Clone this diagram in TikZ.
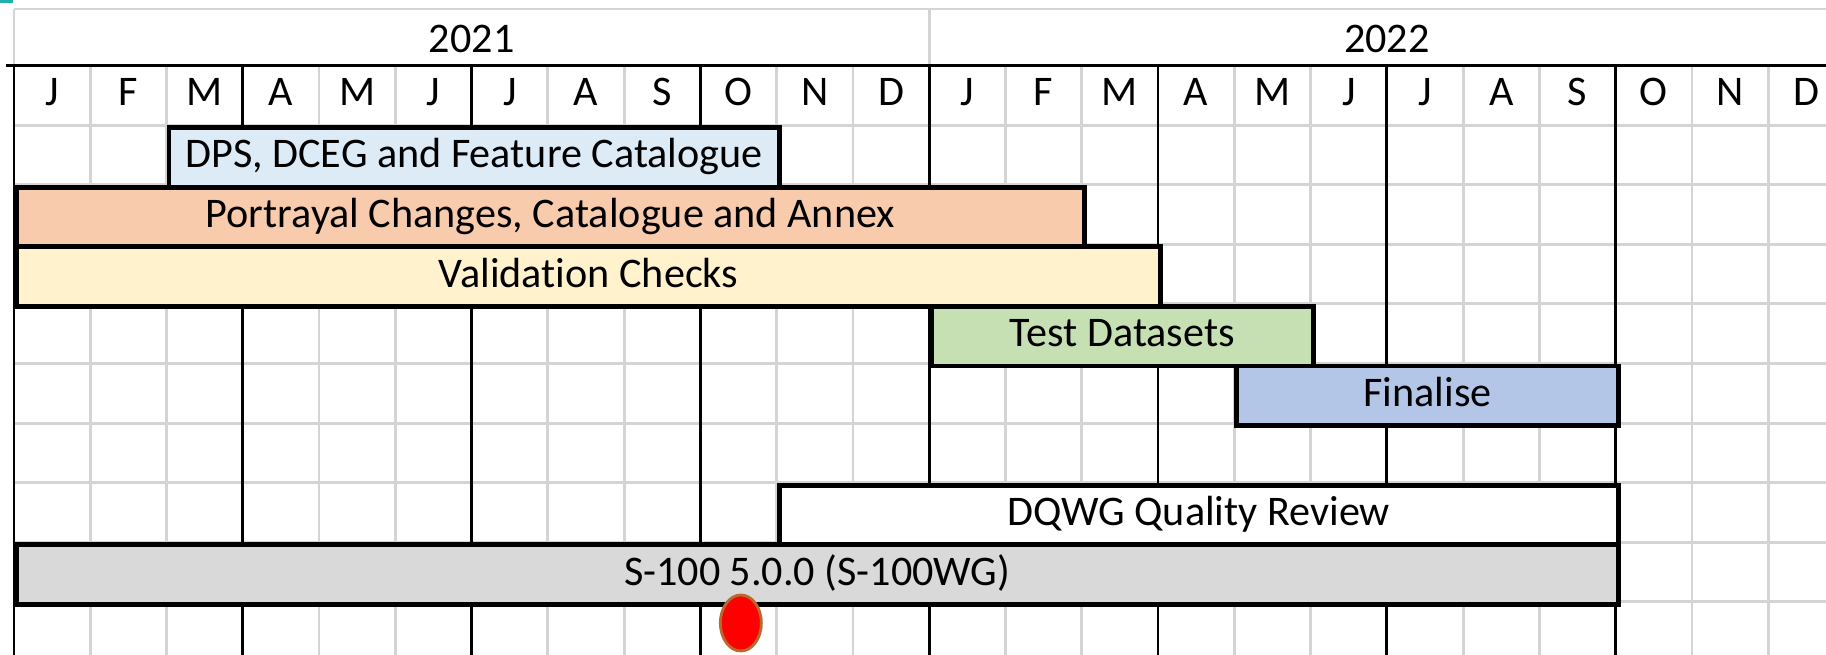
\documentclass[tikz,border=0pt]{standalone}
\usepackage{fontspec}
\setmainfont{Carlito}[Ligatures=NoCommon]
\usetikzlibrary{shapes.geometric}

\definecolor{gridgray}{HTML}{D4D4D4}
\definecolor{dpsblue}{HTML}{DDEBF7}
\definecolor{portorange}{HTML}{F8CBAD}
\definecolor{valyellow}{HTML}{FFF2CC}
\definecolor{testgreen}{HTML}{C6E0B4}
\definecolor{finblue}{HTML}{B4C6E7}
\definecolor{specgray}{HTML}{D9D9D9}
\definecolor{milebrown}{HTML}{B8692E}
\definecolor{selteal}{HTML}{20B2AA}

\def\colw{0.7627cm}

\begin{document}
\begin{tikzpicture}[x=0.7627cm, y=0.596cm]
    \path[use as bounding box] (-0.1836, -9.891) rectangle (23.758, 1.099);
    \clip (-0.1836, -9.891) rectangle (23.758, 1.099);
    \fill[selteal] (-0.1836, 1.049) rectangle (-0.013, 1.099);
    \begin{scope}[lbl/.style={font=\fontsize{12}{14}\selectfont, text height=1.5ex, text depth=0.25ex, inner sep=0pt},
                  task/.style={lbl, draw=black, line width=1.4pt, minimum height=0.596cm, anchor=north west},
                  gridline/.style={color=gridgray, line width=0.8pt},
                  quarter/.style={color=black, line width=0.8pt}]
        % sheet grid
        \draw[gridline, xstep=0.7627cm, ystep=0.596cm] (0, -10) grid (24, 0);
        \draw[gridline] (0, 0.948) -- (24, 0.948);
        \draw[gridline] (0, 0) -- (0, 0.948);
        \draw[gridline] (12, 0) -- (12, 0.948);
        \draw[quarter] (-0.1, 0) -- (24, 0);
        \draw[quarter] (0, 0) -- (0, -10);
        \draw[quarter] (3, 0) -- (3, -10);
        \draw[quarter] (6, 0) -- (6, -10);
        \draw[quarter] (9, 0) -- (9, -10);
        \draw[quarter] (12, 0) -- (12, -10);
        \draw[quarter] (15, 0) -- (15, -10);
        \draw[quarter] (18, 0) -- (18, -10);
        \draw[quarter] (21, 0) -- (21, -10);
        % years
        \node[lbl] (y21) at (6, 0.39) {2021};
        \node[lbl] (y22) at (18, 0.39) {2022};
        % months
        \node[lbl] (jan21) at (0.5, -0.5) {J};
        \node[lbl] (feb21) at (1.5, -0.5) {F};
        \node[lbl] (mar21) at (2.5, -0.5) {M};
        \node[lbl] (apr21) at (3.5, -0.5) {A};
        \node[lbl] (may21) at (4.5, -0.5) {M};
        \node[lbl] (jun21) at (5.5, -0.5) {J};
        \node[lbl] (jul21) at (6.5, -0.5) {J};
        \node[lbl] (aug21) at (7.5, -0.5) {A};
        \node[lbl] (sep21) at (8.5, -0.5) {S};
        \node[lbl] (oct21) at (9.5, -0.5) {O};
        \node[lbl] (nov21) at (10.5, -0.5) {N};
        \node[lbl] (dec21) at (11.5, -0.5) {D};
        \node[lbl] (jan22) at (12.5, -0.5) {J};
        \node[lbl] (feb22) at (13.5, -0.5) {F};
        \node[lbl] (mar22) at (14.5, -0.5) {M};
        \node[lbl] (apr22) at (15.5, -0.5) {A};
        \node[lbl] (may22) at (16.5, -0.5) {M};
        \node[lbl] (jun22) at (17.5, -0.5) {J};
        \node[lbl] (jul22) at (18.5, -0.5) {J};
        \node[lbl] (aug22) at (19.5, -0.5) {A};
        \node[lbl] (sep22) at (20.5, -0.5) {S};
        \node[lbl] (oct22) at (21.5, -0.5) {O};
        \node[lbl] (nov22) at (22.5, -0.5) {N};
        \node[lbl] (dec22) at (23.5, -0.5) {D};
        % tasks
        \node[task, fill=dpsblue, minimum width=8*\colw] (dps) at (2, -1) {DPS, DCEG and Feature Catalogue};
        \node[task, fill=portorange, minimum width=14*\colw] (port) at (0, -2) {Portrayal Changes, Catalogue and Annex};
        \node[task, fill=valyellow, minimum width=15*\colw] (val) at (0, -3) {Validation Checks};
        \node[task, fill=testgreen, minimum width=5*\colw] (test) at (12, -4) {Test Datasets};
        \node[task, fill=finblue, minimum width=5*\colw] (fin) at (16, -5) {Finalise};
        \node[task, fill=white, minimum width=11*\colw] (dqwg) at (10, -7) {DQWG Quality Review};
        \node[task, fill=specgray, minimum width=21*\colw] (s100) at (0, -8) {S-100 5.0.0 (S-100WG)};
        % milestone
        \node[ellipse, fill=red, draw=milebrown, line width=0.8pt, inner sep=0pt, minimum width=0.41cm, minimum height=0.56cm] (mile) at (9.53, -9.354) {};
    \end{scope}
\end{tikzpicture}
\end{document}
